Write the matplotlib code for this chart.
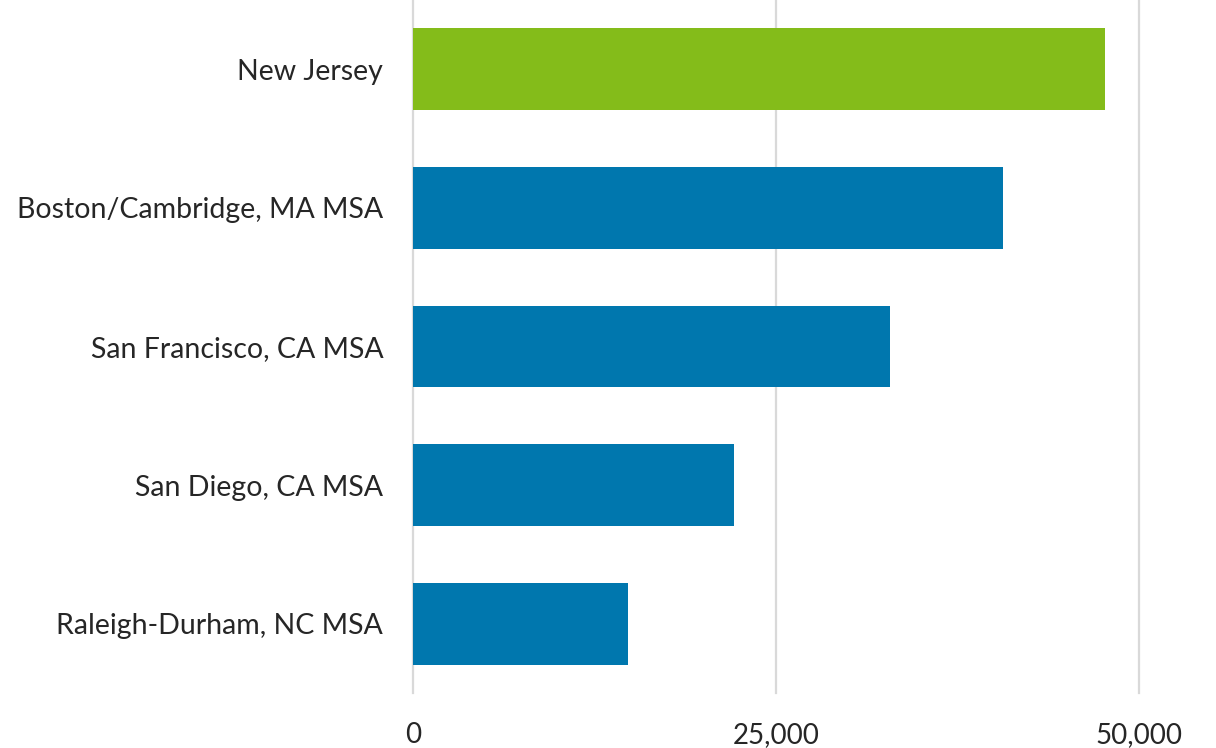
import matplotlib.pyplot as plt
from matplotlib.ticker import FuncFormatter

categories = ["New Jersey", "Boston/Cambridge, MA MSA", "San Francisco, CA MSA",
              "San Diego, CA MSA", "Raleigh-Durham, NC MSA"]
values = [47650, 40600, 32850, 22100, 14800]
colors = ["#84BC1A", "#0077AE", "#0077AE", "#0077AE", "#0077AE"]
xticks = [0, 25000, 50000]

plt.rcParams['font.family'] = ['Lato', 'DejaVu Sans']

fig = plt.figure(figsize=(12.16, 7.48), dpi=100)
ax = fig.add_axes([413/1216, 1 - 693/748, (1139 - 413)/1216, 693/748])

ypos = list(range(len(categories)))
ax.barh(ypos, values, height=0.59, color=colors, zorder=3)
ax.set_ylim(len(categories) - 0.5, -0.5)
ax.set_xlim(0, 50000)
ax.set_yticks(ypos)
ax.set_yticklabels(categories, fontsize=20.5, color="#262626", fontweight='normal')
ax.set_xticks(xticks)
ax.xaxis.set_major_formatter(FuncFormatter(lambda v, p: f"{int(v):,}"))
for lab in ax.get_xticklabels():
    lab.set_fontsize(20)
    lab.set_fontweight('normal')
    lab.set_color("#262626")
ax.tick_params(axis='both', length=0)
ax.tick_params(axis='y', pad=21.5)
ax.tick_params(axis='x', pad=21)
ax.grid(axis='x', color="#D9D9D9", linewidth=1.6, zorder=0)
for gl in ax.get_xgridlines():
    gl.set_clip_on(False)
ax.set_axisbelow(True)
for s in ax.spines.values():
    s.set_visible(False)

fig.savefig("out.png", dpi=100)
